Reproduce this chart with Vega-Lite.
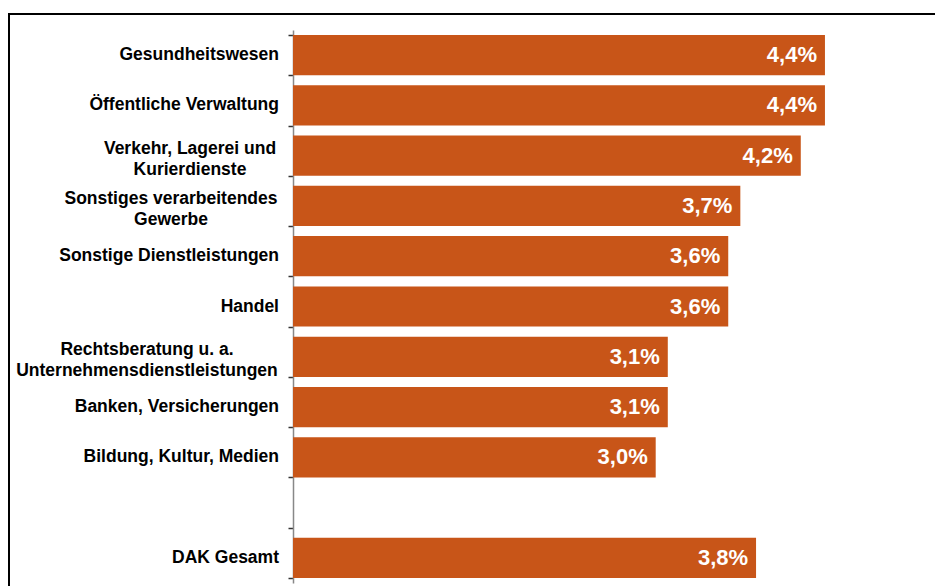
{
  "$schema": "https://vega.github.io/schema/vega-lite/v6.json",
  "width": 940,
  "height": 590,
  "autosize": {"type": "none"},
  "padding": {"left": 9, "top": 14, "right": 0, "bottom": 0},
  "background": "white",
  "config": {
    "view": {"stroke": "black", "strokeWidth": 2, "fill": null},
    "font": "Liberation Sans",
    "text": {"font": "Liberation Sans", "fontWeight": "bold", "fontSize": 17.5, "color": "black", "baseline": "middle", "lineHeight": 21}
  },
  "data": {
    "values": [
      {"category": "Gesundheitswesen", "lines": "Gesundheitswesen", "value": 4.4, "label": "4,4%"},
      {"category": "Öffentliche Verwaltung", "lines": "Öffentliche Verwaltung", "value": 4.4, "label": "4,4%"},
      {"category": "Verkehr, Lagerei und Kurierdienste", "lines": ["Verkehr, Lagerei und", "Kurierdienste"], "value": 4.2, "label": "4,2%"},
      {"category": "Sonstiges verarbeitendes Gewerbe", "lines": ["Sonstiges verarbeitendes", "Gewerbe"], "value": 3.7, "label": "3,7%"},
      {"category": "Sonstige Dienstleistungen", "lines": "Sonstige Dienstleistungen", "value": 3.6, "label": "3,6%"},
      {"category": "Handel", "lines": "Handel", "value": 3.6, "label": "3,6%"},
      {"category": "Rechtsberatung u. a. Unternehmensdienstleistungen", "lines": ["Rechtsberatung u. a.", "Unternehmensdienstleistungen"], "value": 3.1, "label": "3,1%"},
      {"category": "Banken, Versicherungen", "lines": "Banken, Versicherungen", "value": 3.1, "label": "3,1%"},
      {"category": "Bildung, Kultur, Medien", "lines": "Bildung, Kultur, Medien", "value": 3.0, "label": "3,0%"},
      {"category": "DAK Gesamt", "lines": "DAK Gesamt", "value": 3.83, "label": "3,8%"}
    ]
  },
  "encoding": {
    "y": {
      "field": "category",
      "type": "nominal",
      "sort": null,
      "scale": {
        "domain": [
          "Gesundheitswesen",
          "Öffentliche Verwaltung",
          "Verkehr, Lagerei und Kurierdienste",
          "Sonstiges verarbeitendes Gewerbe",
          "Sonstige Dienstleistungen",
          "Handel",
          "Rechtsberatung u. a. Unternehmensdienstleistungen",
          "Banken, Versicherungen",
          "Bildung, Kultur, Medien",
          " ",
          "DAK Gesamt"
        ],
        "rangeMin": 16,
        "rangeMax": 569,
        "paddingInner": 0.2,
        "paddingOuter": 0.1
      },
      "axis": {
        "title": null,
        "orient": "left",
        "offset": -284,
        "tickBand": "extent",
        "domainColor": "#888888",
        "domainWidth": 1.5,
        "tickColor": "#333333",
        "tickSize": 5,
        "tickWidth": 1.5,
        "labels": false
      }
    },
    "x": {
      "field": "value",
      "type": "quantitative",
      "scale": {"domain": [0, 5], "rangeMin": 284, "rangeMax": 888.5, "nice": false, "zero": true},
      "axis": null
    }
  },
  "layer": [
    {"mark": {"type": "bar", "color": "#C85518"}},
    {
      "mark": {"type": "text", "align": "right", "dx": -8, "fontSize": 22, "color": "white"},
      "encoding": {"text": {"field": "label"}}
    },
    {
      "transform": [{"filter": "!isArray(datum.lines)"}],
      "mark": {"type": "text", "align": "right", "dx": -14},
      "encoding": {"x": {"datum": 0}, "text": {"field": "lines"}}
    },
    {
      "transform": [{"filter": {"field": "category", "equal": "Verkehr, Lagerei und Kurierdienste"}}],
      "mark": {"type": "text", "align": "center", "dx": -103, "dy": -7},
      "encoding": {"x": {"datum": 0}, "text": {"field": "lines"}}
    },
    {
      "transform": [{"filter": {"field": "category", "equal": "Sonstiges verarbeitendes Gewerbe"}}],
      "mark": {"type": "text", "align": "center", "dx": -122, "dy": -7},
      "encoding": {"x": {"datum": 0}, "text": {"field": "lines"}}
    },
    {
      "transform": [{"filter": {"field": "category", "equal": "Rechtsberatung u. a. Unternehmensdienstleistungen"}}],
      "mark": {"type": "text", "align": "center", "dx": -146, "dy": -7},
      "encoding": {"x": {"datum": 0}, "text": {"field": "lines"}}
    }
  ]
}
